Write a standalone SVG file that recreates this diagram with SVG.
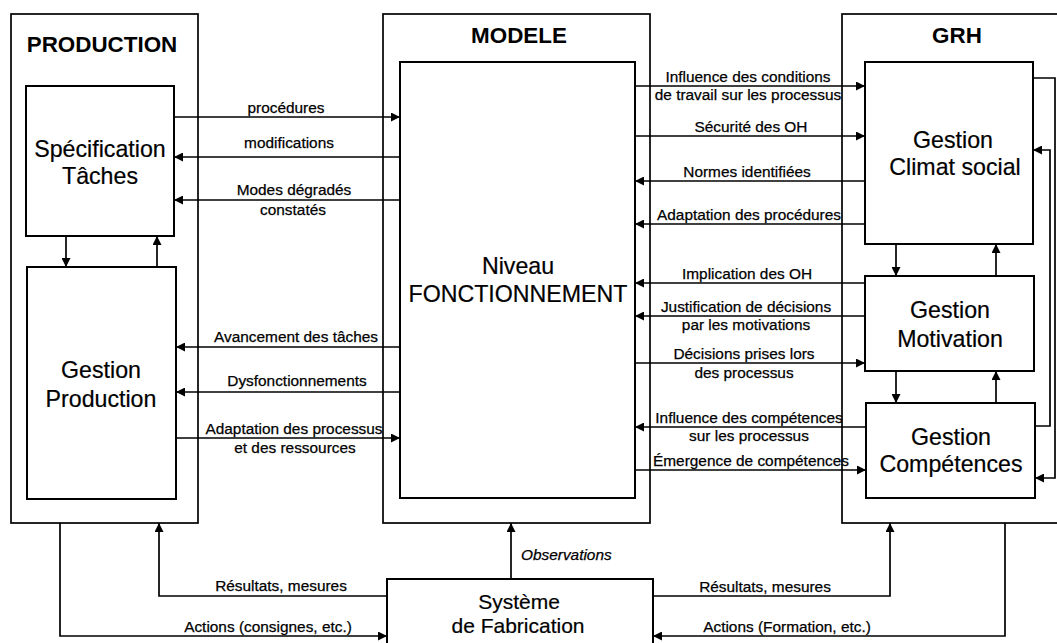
<svg xmlns="http://www.w3.org/2000/svg" width="1057" height="643" viewBox="0 0 1057 643">
<style>
.box{fill:none;stroke:#000;stroke-width:1.7}
.ibox{fill:#fff;stroke:#000;stroke-width:2}
.big{font-family:"Liberation Sans",Arial,sans-serif;font-size:23.2px;text-anchor:middle;fill:#000;stroke:#000;stroke-width:0.2}
.sys{font-size:21px}
.title{font-family:"Liberation Sans",Arial,sans-serif;font-size:22.4px;font-weight:bold;text-anchor:middle;fill:#000}
.lbl{font-family:"Liberation Sans",Arial,sans-serif;font-size:15.4px;text-anchor:middle;fill:#000;stroke:#000;stroke-width:0.25}
.c{fill:none;stroke:#000;stroke-width:1.7}
.a{marker-end:url(#ah)}
</style>
<defs>
<marker id="ah" viewBox="0 0 10 10" refX="10" refY="5" markerUnits="userSpaceOnUse" markerWidth="11" markerHeight="9" orient="auto">
<path d="M0,0 L10,5 L0,10 z" fill="#000"/>
</marker>
</defs>
<rect width="1057" height="643" fill="#fff"/>

<g id="production">
<rect class="box" x="11" y="14" width="187" height="509"/>
<text class="title" x="102" y="52">PRODUCTION</text>
</g>
<g id="modele">
<rect class="box" x="383" y="14" width="267" height="509"/>
<text class="title" x="519" y="43">MODELE</text>
</g>
<g id="grh">
<rect class="box" x="842" y="14" width="240" height="509"/>
<text class="title" x="957" y="43">GRH</text>
</g>

<g id="specification">
<rect class="ibox" x="26" y="86" width="148" height="150"/>
<text class="big" x="100" y="157">Spécification</text>
<text class="big" x="100" y="184">Tâches</text>
</g>
<g id="gestion-production">
<rect class="ibox" x="27" y="267" width="149" height="232"/>
<text class="big" x="101" y="378">Gestion</text>
<text class="big" x="101" y="407">Production</text>
</g>
<g id="niveau">
<rect class="ibox" x="400" y="62" width="235" height="436"/>
<text class="big" x="518" y="274">Niveau</text>
<text class="big" x="518" y="302">FONCTIONNEMENT</text>
</g>
<g id="climat">
<rect class="ibox" x="865" y="62" width="168" height="182"/>
<text class="big" x="953" y="148">Gestion</text>
<text class="big" x="955" y="175">Climat social</text>
</g>
<g id="motivation">
<rect class="ibox" x="865" y="276" width="169" height="95"/>
<text class="big" x="950" y="318">Gestion</text>
<text class="big" x="950" y="347">Motivation</text>
</g>
<g id="competences">
<rect class="ibox" x="866" y="403" width="169" height="95"/>
<text class="big" x="951" y="445">Gestion</text>
<text class="big" x="951" y="472">Compétences</text>
</g>
<g id="systeme">
<rect class="ibox" x="387" y="579" width="266" height="90"/>
<text class="big sys" x="519" y="609">Système</text>
<text class="big sys" x="518" y="633">de Fabrication</text>
</g>

<g id="connectors">
<path class="c a" d="M66,236 V267"/>
<path class="c a" d="M157,267 V236"/>
<path class="c a" d="M174,117 H400"/>
<path class="c a" d="M400,157 H174"/>
<path class="c a" d="M400,200 H174"/>
<path class="c a" d="M400,347 H176"/>
<path class="c a" d="M400,392 H176"/>
<path class="c a" d="M176,438 H400"/>

<path class="c a" d="M635,86 H865"/>
<path class="c a" d="M635,136 H865"/>
<path class="c a" d="M865,181 H635"/>
<path class="c a" d="M865,224 H635"/>
<path class="c a" d="M865,283 H635"/>
<path class="c a" d="M865,316 H635"/>
<path class="c a" d="M635,363 H865"/>
<path class="c a" d="M866,427 H635"/>
<path class="c a" d="M635,470 H866"/>

<path class="c a" d="M896,244 V276"/>
<path class="c a" d="M996,276 V244"/>
<path class="c a" d="M896,371 V403"/>
<path class="c a" d="M996,403 V371"/>
<path class="c a" d="M1035,426 H1050 V150 H1033"/>
<path class="c a" d="M1033,78 H1055 V478 H1035"/>

<path class="c a" d="M511,579 V523"/>
<path class="c a" d="M60,523 V636 H387"/>
<path class="c a" d="M387,596 H159 V523"/>
<path class="c a" d="M653,596 H890 V523"/>
<path class="c a" d="M1005,523 V636 H653"/>
</g>

<g id="labels">
<text class="lbl" x="286" y="113">procédures</text>
<text class="lbl" x="289" y="148">modifications</text>
<text class="lbl" x="294" y="195">Modes dégradés</text>
<text class="lbl" x="293" y="215">constatés</text>
<text class="lbl" x="296" y="342">Avancement des tâches</text>
<text class="lbl" x="297" y="386">Dysfonctionnements</text>
<text class="lbl" x="294" y="434">Adaptation des processus</text>
<text class="lbl" x="295" y="453">et des ressources</text>

<text class="lbl" x="748" y="82">Influence des conditions</text>
<text class="lbl" x="748" y="100">de travail sur les processus</text>
<text class="lbl" x="751" y="132">Sécurité des OH</text>
<text class="lbl" x="747" y="177">Normes identifiées</text>
<text class="lbl" x="749" y="220">Adaptation des procédures</text>
<text class="lbl" x="747" y="279">Implication des OH</text>
<text class="lbl" x="746" y="312">Justification de décisions</text>
<text class="lbl" x="746" y="330">par les motivations</text>
<text class="lbl" x="744" y="359">Décisions prises lors</text>
<text class="lbl" x="744" y="378">des processus</text>
<text class="lbl" x="749" y="423">Influence des compétences</text>
<text class="lbl" x="749" y="441">sur les processus</text>
<text class="lbl" x="751" y="466">Émergence de compétences</text>

<text class="lbl" x="521" y="560" style="text-anchor:start;font-style:italic">Observations</text>
<text class="lbl" x="281" y="591">Résultats, mesures</text>
<text class="lbl" x="268" y="632">Actions (consignes, etc.)</text>
<text class="lbl" x="765" y="592">Résultats, mesures</text>
<text class="lbl" x="787" y="632">Actions (Formation, etc.)</text>
</g>
</svg>
